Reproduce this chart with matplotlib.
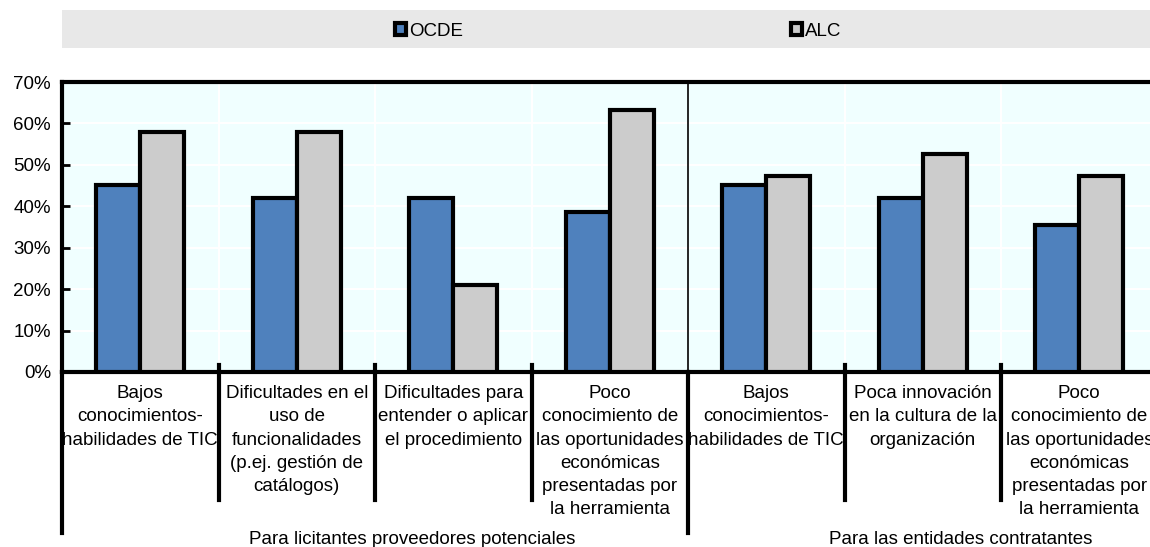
import matplotlib
matplotlib.use("Agg")
import matplotlib.pyplot as plt
from matplotlib.patches import Rectangle
from matplotlib.lines import Line2D
import numpy as np
from matplotlib import font_manager

# Data (share of respondents, %)
categories = [
    "Bajos\nconocimientos-\nhabilidades de TIC",
    "Dificultades en el\nuso de\nfuncionalidades\n(p.ej. gestión de\ncatálogos)",
    "Dificultades para\nentender o aplicar\nel procedimiento",
    "Poco\nconocimiento de\nlas oportunidades\neconómicas\npresentadas por\nla herramienta",
    "Bajos\nconocimientos-\nhabilidades de TIC",
    "Poca innovación\nen la cultura de la\norganización",
    "Poco\nconocimiento de\nlas oportunidades\neconómicas\npresentadas por\nla herramienta",
]
groups = ["Para licitantes proveedores potenciales", "Para las entidades contratantes"]
group_sizes = [4, 3]
ocde = [45.2, 41.9, 41.9, 38.7, 45.2, 41.9, 35.5]
alc = [57.9, 57.9, 21.1, 63.2, 47.4, 52.6, 47.4]
series_names = ["OCDE", "ALC"]
yticks = [0, 10, 20, 30, 40, 50, 60, 70]

names = {f.name for f in font_manager.fontManager.ttflist}
font = "Liberation Sans Narrow" if "Liberation Sans Narrow" in names else "Liberation Sans"
plt.rcParams["font.family"] = [font, "DejaVu Sans"]
fs = 13.5

W, H = 1150, 547
fig = plt.figure(figsize=(W / 100, H / 100), dpi=100)
left, right, top, bottom = 62, 1157.5, 82, 372
ax = fig.add_axes([left / W, 1 - bottom / H, (right - left) / W, (bottom - top) / H])
ax.set_facecolor("#F0FFFF")

x = np.arange(len(categories))
bw = 0.28
b1 = ax.bar(x - bw / 2, ocde, bw, color="#4F81BD", edgecolor="black", linewidth=3, zorder=3)
b2 = ax.bar(x + bw / 2, alc, bw, color="#CCCCCC", edgecolor="black", linewidth=3, zorder=3)

ax.set_xlim(-0.5, len(categories) - 0.5)
ax.set_ylim(0, 70)
ax.set_yticks(yticks)
ax.set_yticklabels([f"{v}%" for v in yticks], fontsize=fs)
ax.tick_params(axis="y", direction="in", length=6, width=2, pad=8)
ax.set_xticks([])

for y in yticks[1:-1]:
    ax.axhline(y, color="white", linewidth=1.5, zorder=1)
for i in range(len(categories) - 1):
    ax.axvline(i + 0.5, color="white", linewidth=1.5, zorder=1)
ax.axvline(group_sizes[0] - 0.5, color="black", linewidth=1.2, zorder=2)

for s in ["left", "top", "bottom"]:
    ax.spines[s].set_linewidth(3)
ax.spines["right"].set_visible(False)

tr = ax.get_xaxis_transform()
for i, c in enumerate(categories):
    ax.text(i, -0.045, c, transform=tr, ha="center", va="top", fontsize=fs,
            linespacing=1.48)

# separators below the axis
bounds = np.cumsum([0] + group_sizes) - 0.5
for i in range(len(categories) - 1):
    xs = i + 0.5
    if xs in bounds:
        continue
    ax.add_line(Line2D([xs, xs], [0.024, -0.441], transform=tr, color="black",
                       linewidth=3, clip_on=False))
for xs in bounds[:-1]:
    ax.add_line(Line2D([xs, xs], [0, -0.555], transform=tr, color="black",
                       linewidth=3, clip_on=False))

start = 0
for g, n in zip(groups, group_sizes):
    cx = start + (n - 1) / 2 + 0.24
    ax.text(cx, -0.578, g, transform=tr, ha="center", va="center", fontsize=fs)
    start += n

# legend band
fig.patches.append(Rectangle((left / W, 1 - 48 / H), 1 - left / W, 38 / H,
                             transform=fig.transFigure, facecolor="#E8E8E8",
                             edgecolor="none", zorder=0))
leg = fig.legend([b1, b2], series_names, loc="center", ncol=2,
                 bbox_to_anchor=(618 / W, 1 - 31 / H), frameon=False,
                 fontsize=fs, handlelength=0.6, handleheight=0.6,
                 handletextpad=0.15, columnspacing=17.5)

fig.savefig("out.png", dpi=100)
